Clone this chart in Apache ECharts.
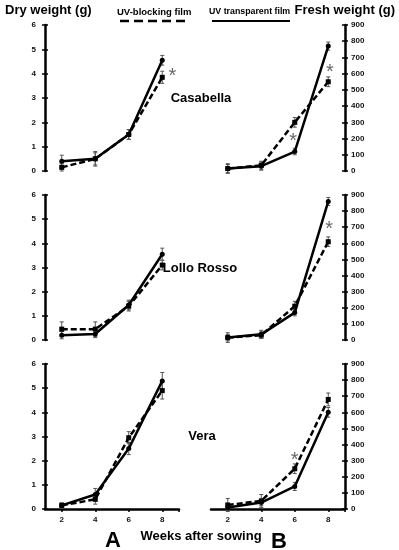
<!DOCTYPE html>
<html><head><meta charset="utf-8">
<script src="https://cdn.jsdelivr.net/npm/echarts@6/dist/echarts.min.js"></script>
<style>html,body{margin:0;padding:0;background:#fff}#c{width:399px;height:550px}</style>
</head><body><div id="c"></div>
<script>
const weeks = [2, 4, 6, 8];
const cultivars = ['Casabella', 'Lollo Rosso', 'Vera'];
// Dry weight (g)
const dryTransparent = [[0.4, 0.5, 1.5, 4.55], [0.2, 0.25, 1.45, 3.55], [0.15, 0.6, 2.5, 5.3]];
const dryTransparentErr = [[0.25, 0.3, 0.2, 0.2], [0.15, 0.15, 0.2, 0.25], [0.1, 0.25, 0.25, 0.35]];
const dryBlocking = [[0.15, 0.5, 1.5, 3.85], [0.45, 0.45, 1.4, 3.1], [0.15, 0.4, 2.95, 4.9]];
const dryBlockingErr = [[0.15, 0.25, 0.2, 0.25], [0.3, 0.3, 0.2, 0.2], [0.1, 0.2, 0.25, 0.35]];
// Fresh weight (g)
const freshTransparent = [[15, 30, 120, 770], [15, 35, 170, 860], [10, 40, 140, 600]];
const freshTransparentErr = [[30, 25, 20, 25], [30, 25, 20, 25], [15, 20, 25, 30]];
const freshBlocking = [[15, 35, 300, 550], [15, 30, 210, 610], [25, 50, 250, 680]];
const freshBlockingErr = [[25, 25, 30, 30], [20, 20, 30, 30], [40, 40, 30, 40]];
// significance asterisks [week, value]
const dryStars = [[[8.6, 4.1]], [], []];
const freshStars = [[[5.9, 210], [8.1, 640]], [[8.05, 715]], [[6, 330]]];
const dryTicks = [0, 1, 2, 3, 4, 5, 6];
const freshTicks = [0, 100, 200, 300, 400, 500, 600, 700, 800, 900];

const FONT = 'Liberation Sans, Arial, sans-serif';
const rowsTop = [25, 195, 364];
const rowH = 146;
const grids = [], xAxes = [], yAxes = [], series = [];

function addPanel(row, side) {
  const gi = grids.length;
  const isDry = side === 'left';
  grids.push({left: isDry ? 45 : 211, width: 134, top: rowsTop[row], height: rowH - (row ? 1 : 0)});
  const bottomRow = row === 2;
  xAxes.push({
    type: 'value', gridIndex: gi, min: 1, max: 9, show: bottomRow,
    axisLine: {show: bottomRow, onZero: false, lineStyle: {color: '#000', width: 2.5}},
    axisTick: {show: true, customValues: [2, 4, 6, 8, 9], length: 3, inside: false, lineStyle: {color: '#000', width: 1.5}},
    axisLabel: {customValues: weeks, fontSize: 8, fontWeight: 'bold', color: '#111', fontFamily: FONT, margin: 7},
    splitLine: {show: false}
  });
  const ymax = isDry ? 6 : 900, yint = isDry ? 1 : 100;
  const ticks = isDry ? dryTicks : freshTicks;
  const yi = yAxes.length;
  yAxes.push({
    type: 'value', gridIndex: gi, min: 0, max: ymax, interval: yint, position: side,
    axisLine: {show: true, lineStyle: {color: '#000', width: 2.5}},
    axisTick: {show: true, length: 3, lineStyle: {color: '#000', width: 1.5}},
    axisLabel: {fontSize: 8, fontWeight: 'bold', color: '#111', fontFamily: FONT, margin: isDry ? 9 : 6,
      formatter: v => ticks.includes(v) ? String(v) : ''},
    splitLine: {show: false}
  });
  yAxes.push({
    type: 'value', gridIndex: gi, min: 0, max: ymax, interval: yint, position: side,
    axisLine: {show: false}, axisLabel: {show: false}, splitLine: {show: false},
    axisTick: {show: true, inside: true, length: 3, lineStyle: {color: '#000', width: 1.5}}
  });
  const tVals = isDry ? dryTransparent[row] : freshTransparent[row];
  const tErr = isDry ? dryTransparentErr[row] : freshTransparentErr[row];
  const bVals = isDry ? dryBlocking[row] : freshBlocking[row];
  const bErr = isDry ? dryBlockingErr[row] : freshBlockingErr[row];
  const stars = isDry ? dryStars[row] : freshStars[row];
  const errData = [];
  weeks.forEach((w, i) => {
    errData.push([w, tVals[i] - tErr[i], tVals[i] + tErr[i]]);
    errData.push([w, bVals[i] - bErr[i], bVals[i] + bErr[i]]);
  });
  series.push({
    type: 'custom', xAxisIndex: gi, yAxisIndex: yi, data: errData, z: 1,
    renderItem: (params, api) => {
      const x = api.value(0);
      const p1 = api.coord([x, api.value(1)]);
      const p2 = api.coord([x, api.value(2)]);
      const s = {stroke: '#555', lineWidth: 1};
      return {type: 'group', children: [
        {type: 'line', shape: {x1: p1[0], y1: p1[1], x2: p2[0], y2: p2[1]}, style: s},
        {type: 'line', shape: {x1: p1[0] - 2, y1: p1[1], x2: p1[0] + 2, y2: p1[1]}, style: s},
        {type: 'line', shape: {x1: p2[0] - 2, y1: p2[1], x2: p2[0] + 2, y2: p2[1]}, style: s}
      ]};
    }
  });
  series.push({
    type: 'line', name: 'UV transparent film', xAxisIndex: gi, yAxisIndex: yi, z: 3,
    data: weeks.map((w, i) => [w, tVals[i]]), symbol: 'circle', symbolSize: 5,
    itemStyle: {color: '#000'}, lineStyle: {color: '#000', width: 2.5, type: 'solid'}, animation: false
  });
  series.push({
    type: 'line', name: 'UV-blocking film', xAxisIndex: gi, yAxisIndex: yi, z: 2,
    data: weeks.map((w, i) => [w, bVals[i]]), symbol: 'rect', symbolSize: 5,
    itemStyle: {color: '#000'}, lineStyle: {color: '#000', width: 2.5, type: [6, 3]}, animation: false
  });
  series.push({
    type: 'scatter', xAxisIndex: gi, yAxisIndex: yi, data: stars, symbolSize: 1,
    itemStyle: {color: 'rgba(0,0,0,0)'},
    label: {show: true, position: 'inside', offset: [0, 5], formatter: '*', fontSize: 20, color: '#444', fontFamily: FONT}
  });
}
for (let r = 0; r < 3; r++) { addPanel(r, 'left'); addPanel(r, 'right'); }

const labelY = [98, 268, 436];
const labelX = [201, 200, 202];
const graphic = [
  {type: 'text', left: 5, top: 4, style: {text: 'Dry weight (g)', font: 'bold 13px ' + FONT, fill: '#000'}},
  {type: 'text', right: 4, top: 4, style: {text: 'Fresh weight (g)', font: 'bold 13px ' + FONT, fill: '#000'}},
  {type: 'text', left: 117, top: 7, style: {text: 'UV-blocking film', font: 'bold 9.5px ' + FONT, fill: '#000'}},
  {type: 'line', shape: {x1: 120, y1: 21, x2: 190, y2: 21}, style: {stroke: '#000', lineWidth: 2.5, lineDash: [9, 5]}},
  {type: 'text', left: 209, top: 7, style: {text: 'UV transparent film', font: 'bold 8.8px ' + FONT, fill: '#000'}},
  {type: 'line', shape: {x1: 212, y1: 21, x2: 290, y2: 21}, style: {stroke: '#000', lineWidth: 2}},
  {type: 'text', x: 201, y: 536, style: {text: 'Weeks after sowing', font: 'bold 13px ' + FONT, fill: '#000', align: 'center', verticalAlign: 'middle'}},
  {type: 'text', x: 113, y: 541, style: {text: 'A', font: 'bold 22px ' + FONT, fill: '#000', align: 'center', verticalAlign: 'middle'}},
  {type: 'text', x: 279, y: 542, style: {text: 'B', font: 'bold 22px ' + FONT, fill: '#000', align: 'center', verticalAlign: 'middle'}}
];
cultivars.forEach((c, i) => graphic.push({type: 'text', x: labelX[i], y: labelY[i],
  style: {text: c, font: 'bold 13px ' + FONT, fill: '#000', align: 'center', verticalAlign: 'middle'}}));

const chart = echarts.init(document.getElementById('c'), null, {renderer: 'canvas'});
chart.setOption({
  animation: false, backgroundColor: '#fff',
  grid: grids, xAxis: xAxes, yAxis: yAxes, series: series, graphic: graphic
});
</script></body></html>
